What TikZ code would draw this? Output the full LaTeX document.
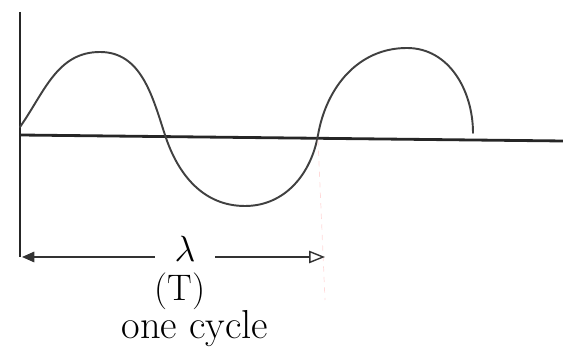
\documentclass[tikz,border=0pt]{standalone}
\usepackage{tikz}
\usetikzlibrary{arrows.meta}

\begin{document}
\begin{tikzpicture}[>=Latex, font=\fontsize{21}{25}\selectfont]
        \useasboundingbox (0,0) rectangle (11.26,7.08);
        \tikzset{axisline/.style={line width=1.6pt, black!85},
                 waveline/.style={line width=1.1pt, black!75, line cap=round},
                 spanline/.style={line width=0.8pt, black!80},
                 label/.style={inner sep=0pt}}

        % --- axes ---
        \coordinate (origin) at (0.4,4.38);
        \coordinate (ytop) at (0.4,6.84);
        \coordinate (ybot) at (0.4,1.94);
        \coordinate (xend) at (11.26,4.26);
        \draw[axisline] (ytop) -- (ybot);
        \draw[axisline] (origin) -- (xend);

        % --- the wave, a bit more than one cycle ---
        \draw[waveline] (0.4,4.54)
            to[out=55, in=180] (2.0,6.04)
            to[out=0, in=108] (3.3,4.38)
            to[out=-72, in=180] (4.9,2.96)
            to[out=0, in=-100] (6.36,4.38)
            to[out=80, in=180] (8.14,6.12)
            to[out=0, in=90] (9.46,4.42);

        % --- faint guide down from the second crossing ---
        \draw[red!15, thin, dashed] (6.36,4.28) -- (6.5,1.08);

        % --- one cycle span ---
        \node[label, minimum width=1.2cm] (lambda) at (3.7,2.1) {$\lambda$};
        \node[label] (period) at (3.6,1.25) {(T)};
        \node[label, font=\fontsize{23}{27}\selectfont] (cycle) at (3.9,0.5) {one cycle};
        \coordinate (spanl) at (0.44,1.94);
        \coordinate (spanr) at (6.5,1.94);
        \draw[spanline, -{Triangle[length=7pt, width=6pt]}] (lambda.west |- spanl) -- (spanl);
        \draw[spanline, -{Triangle[open, length=9pt, width=7pt]}] (lambda.east |- spanr) -- (spanr);
\end{tikzpicture}
\end{document}
